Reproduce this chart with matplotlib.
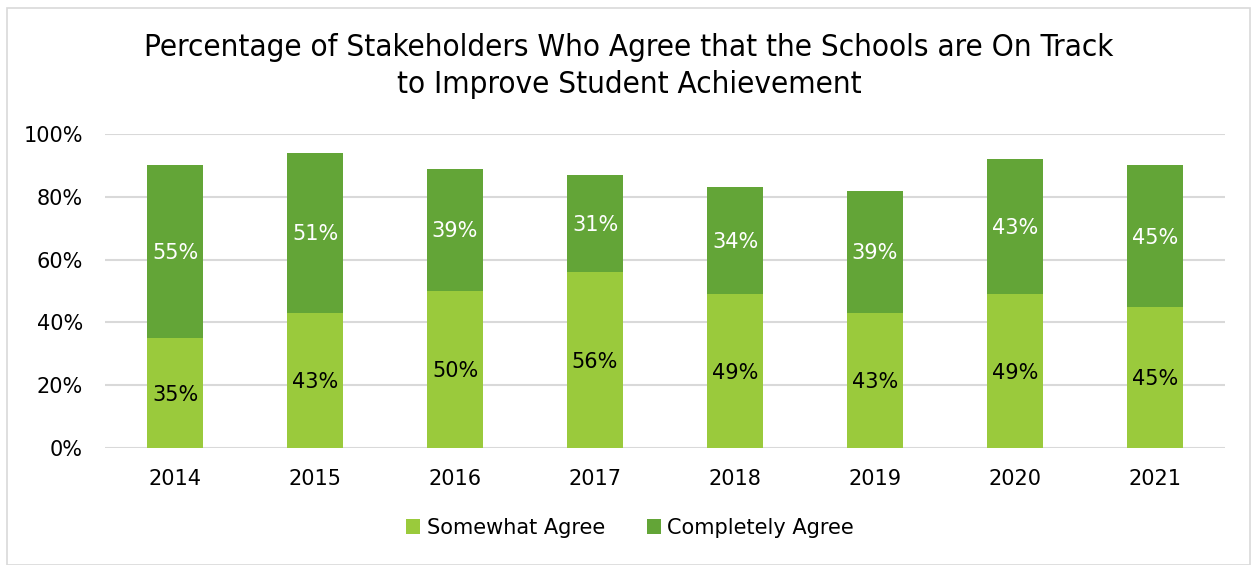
import matplotlib
matplotlib.use("Agg")
import matplotlib.pyplot as plt
from matplotlib.patches import Rectangle
import numpy as np

years = ["2014", "2015", "2016", "2017", "2018", "2019", "2020", "2021"]
somewhat = [35, 43, 50, 56, 49, 43, 49, 45]
completely = [55, 51, 39, 31, 34, 39, 43, 45]
yticks = [0, 20, 40, 60, 80, 100]

c_some = "#9ACA3C"
c_comp = "#63A537"

W, H = 1251, 565
fig = plt.figure(figsize=(W/100, H/100), dpi=100)
fig.patch.set_facecolor("white")
fig.patches.append(Rectangle((7/W, 0), 1 - 7/W - 1/W, 1 - 8/H, transform=fig.transFigure,
                             fill=False, edgecolor="#D9D9D9", linewidth=1.2))

ax = fig.add_axes([105/W, 1 - 448/H, 1120/W, 314/H])
x = np.arange(len(years))
bw = 0.4
ax.bar(x, somewhat, bw, color=c_some, label="Somewhat Agree", zorder=3)
ax.bar(x, completely, bw, bottom=somewhat, color=c_comp, label="Completely Agree", zorder=3)

for i in range(len(years)):
    ax.text(x[i], somewhat[i]/2 - 0.5, f"{somewhat[i]}%", ha="center", va="center",
            fontsize=15, color="black", zorder=4)
    ax.text(x[i], somewhat[i] + completely[i]/2 - 0.5, f"{completely[i]}%", ha="center", va="center",
            fontsize=15, color="white", zorder=4)

ax.set_xlim(-0.5, len(years) - 0.5)
ax.set_ylim(0, 100)
ax.set_yticks(yticks)
ax.set_yticklabels([f"{v}%" for v in yticks], fontsize=15)
ax.set_xticks(x)
ax.set_xticklabels(years, fontsize=15)
ax.tick_params(length=0)
ax.tick_params(axis="x", pad=15)
ax.tick_params(axis="y", pad=16)
ax.yaxis.grid(True, color="#D9D9D9", linewidth=1.5, zorder=0)
for s in ax.spines.values():
    s.set_visible(False)

title_kw = dict(ha="center", va="center", fontsize=22.5, fontstretch="condensed",
                family=["DejaVu Sans"], color="black")
fig.text(629/W, 1 - 47/H, "Percentage of Stakeholders Who Agree that the Schools are On Track", **title_kw)
fig.text(629/W, 1 - 84/H, "to Improve Student Achievement", **title_kw)

fig.legend(loc="center", bbox_to_anchor=(630/W, 1 - 528/H), ncol=2, frameon=False,
           fontsize=15, handlelength=0.7, handleheight=0.7, handletextpad=0.3, columnspacing=2.0)

fig.savefig("out.png", dpi=100)
